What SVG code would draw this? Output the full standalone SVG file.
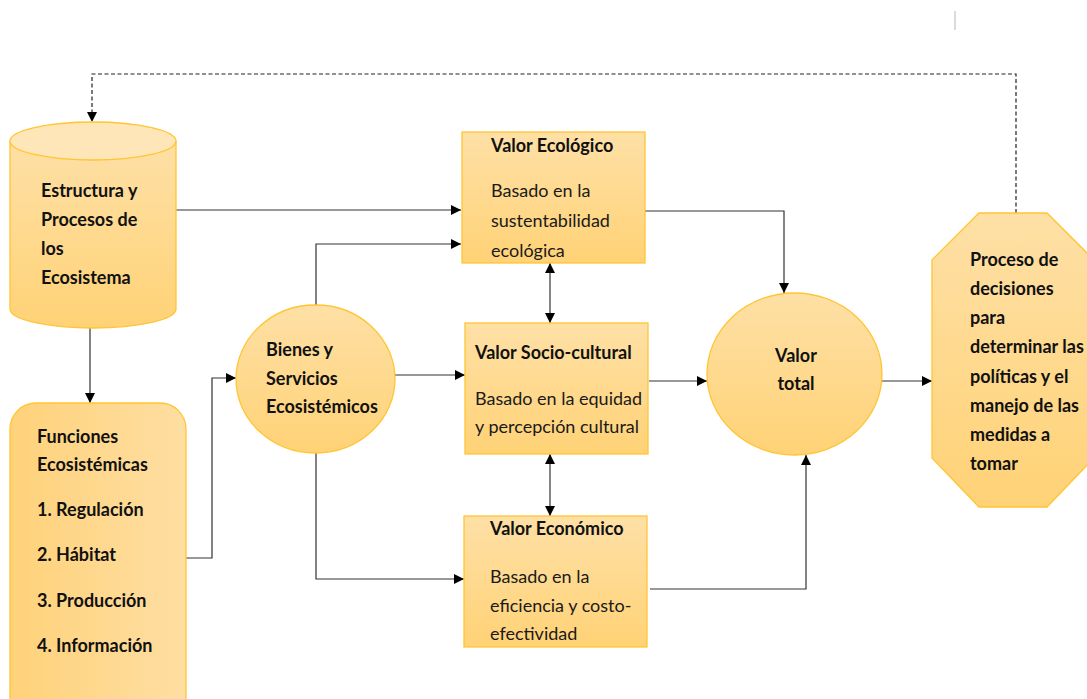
<svg xmlns="http://www.w3.org/2000/svg" width="1087" height="699" viewBox="0 0 1087 699">
<style>
  .node { stroke: #FFC533; stroke-width: 1.3; }
  .t { font-family: Lato, "Open Sans", "Liberation Sans", sans-serif; font-size: 18px; fill: #1a1a1a; }
  .b { font-weight: bold; fill: #111; }
  .c { fill: none; stroke: #333; stroke-width: 1.2; }
  .d { fill: none; stroke: #222; stroke-width: 1.2; stroke-dasharray: 4 2.5; }
</style>
<defs>
  <linearGradient id="g" x1="0" y1="0" x2="0" y2="1">
    <stop offset="0" stop-color="#FEE0A6"/>
    <stop offset="1" stop-color="#FFD276"/>
  </linearGradient>
  <linearGradient id="gh" x1="0" y1="0" x2="1" y2="0">
    <stop offset="0" stop-color="#FFD27A"/>
    <stop offset="1" stop-color="#FEDEA2"/>
  </linearGradient>
  <marker id="a" viewBox="0 0 10 10" refX="10" refY="5" markerWidth="10" markerHeight="10" markerUnits="userSpaceOnUse" orient="auto-start-reverse">
    <path d="M0,0 L10,5 L0,10 z" fill="#000"/>
  </marker>
</defs>
<rect width="1087" height="699" fill="#fff"/>
<line x1="955" y1="11" x2="955" y2="30" stroke="#cfcfcf" stroke-width="1.5"/>

<g id="connectors">
  <path class="c" d="M176,210 H461" marker-end="url(#a)"/>
  <path class="c" d="M316,305 V244 H461" marker-end="url(#a)"/>
  <path class="c" d="M90,328 V403" marker-end="url(#a)"/>
  <path class="c" d="M186,558 H212 V378 H236" marker-end="url(#a)"/>
  <path class="c" d="M395,375 H465" marker-end="url(#a)"/>
  <path class="c" d="M316,453 V579 H464" marker-end="url(#a)"/>
  <path class="c" d="M645,211 H784 V293" marker-end="url(#a)"/>
  <path class="c" d="M649,381 H707" marker-end="url(#a)"/>
  <path class="c" d="M650,589 H806 V455" marker-end="url(#a)"/>
  <path class="c" d="M882,381 H932" marker-end="url(#a)"/>
  <path class="c" d="M550,263 V323" marker-start="url(#a)" marker-end="url(#a)"/>
  <path class="c" d="M550,454 V516" marker-start="url(#a)" marker-end="url(#a)"/>
  <path class="d" d="M1016,213 V74 H92 V122" marker-end="url(#a)"/>
</g>

<g id="estructura">
  <path class="node" fill="url(#g)" d="M10,141 V309 A83,19 0 0 0 176,309 V141"/>
  <ellipse class="node" cx="93" cy="141" rx="83" ry="19" fill="#FFE6B8"/>
  <text class="t b" x="41" y="197">Estructura y</text>
  <text class="t b" x="41" y="226">Procesos de</text>
  <text class="t b" x="41" y="255">los</text>
  <text class="t b" x="41" y="284">Ecosistema</text>
</g>

<g id="funciones">
  <rect class="node" x="10" y="403" width="176" height="320" rx="26" fill="url(#gh)"/>
  <text class="t b" x="37" y="443">Funciones</text>
  <text class="t b" x="37" y="471">Ecosistémicas</text>
  <text class="t b" x="37" y="516">1. Regulación</text>
  <text class="t b" x="37" y="561">2. Hábitat</text>
  <text class="t b" x="37" y="607">3. Producción</text>
  <text class="t b" x="37" y="652">4. Información</text>
</g>

<g id="bienes">
  <ellipse class="node" cx="315.5" cy="379" rx="79.5" ry="74" fill="url(#g)"/>
  <text class="t b" x="266" y="356">Bienes y</text>
  <text class="t b" x="266" y="385">Servicios</text>
  <text class="t b" x="266" y="413">Ecosistémicos</text>
</g>

<g id="ecologico">
  <rect class="node" x="462" y="132" width="183" height="131" fill="url(#g)"/>
  <text class="t b" x="491" y="152">Valor Ecológico</text>
  <text class="t" x="491" y="197">Basado en la</text>
  <text class="t" x="491" y="227">sustentabilidad</text>
  <text class="t" x="491" y="257">ecológica</text>
</g>

<g id="sociocultural">
  <rect class="node" x="465" y="323" width="183" height="131" fill="url(#g)"/>
  <text class="t b" x="475" y="359">Valor Socio-cultural</text>
  <text class="t" x="475" y="405">Basado en la equidad</text>
  <text class="t" x="475" y="433">y percepción cultural</text>
</g>

<g id="economico">
  <rect class="node" x="464" y="516" width="183" height="131" fill="url(#g)"/>
  <text class="t b" x="490" y="535">Valor Económico</text>
  <text class="t" x="490" y="583">Basado en la</text>
  <text class="t" x="490" y="612">eficiencia y costo-</text>
  <text class="t" x="490" y="640">efectividad</text>
</g>

<g id="valortotal">
  <ellipse class="node" cx="794.5" cy="374" rx="87.5" ry="81" fill="url(#g)"/>
  <text class="t b" x="796" y="362" text-anchor="middle">Valor</text>
  <text class="t b" x="796" y="390" text-anchor="middle">total</text>
</g>

<g id="proceso">
  <polygon class="node" fill="url(#g)" points="979,213 1047,213 1094,260 1094,458 1047,507 979,507 932,458 932,260"/>
  <text class="t b" x="970" y="266">Proceso de</text>
  <text class="t b" x="970" y="295">decisiones</text>
  <text class="t b" x="970" y="324">para</text>
  <text class="t b" x="970" y="353">determinar las</text>
  <text class="t b" x="970" y="383">políticas y el</text>
  <text class="t b" x="970" y="412">manejo de las</text>
  <text class="t b" x="970" y="441">medidas a</text>
  <text class="t b" x="970" y="470">tomar</text>
</g>
</svg>
